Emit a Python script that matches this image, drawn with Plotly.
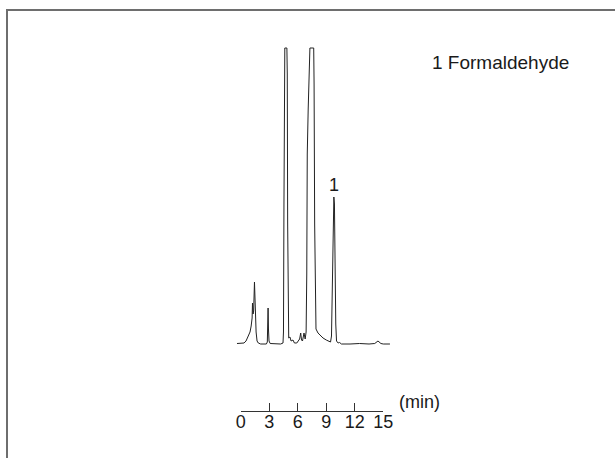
import plotly.graph_objects as go

# Chromatogram trace (retention time in min, detector signal in arbitrary units)
time_min = [-0.39, 0.00, 0.35, 0.56, 0.77, 0.98, 1.10, 1.20, 1.24, 1.30, 1.36, 1.45, 1.50, 1.55,
            1.62, 1.72, 1.85, 2.10, 2.70, 2.80, 2.85, 2.88, 2.92, 2.98, 3.10, 3.60, 4.20, 4.45,
            4.50, 4.55, 4.60, 4.64, 4.86, 4.90, 4.94, 4.98, 5.05, 5.18, 5.30, 5.50, 5.65, 5.90,
            6.20, 6.31, 6.40, 6.50, 6.66, 6.78, 6.88, 6.95, 7.00, 7.10, 7.20, 7.28, 7.68, 7.72,
            7.78, 7.85, 7.92, 8.13, 8.40, 8.66, 9.00, 9.25, 9.45, 9.55, 9.62, 9.70, 9.80, 9.86,
            9.92, 10.00, 10.08, 10.15, 10.25, 10.40, 10.60, 11.50, 12.50, 13.50, 14.10, 14.44,
            14.75, 15.00, 15.70]
signal = [0.5, 0.5, 1, 3, 7, 12, 18, 26, 41, 30, 33, 62, 36, 32,
          12, 3, 1, 0, 0, 2, 18, 36, 15, 3, 0.5, 0, 0, 1,
          12, 140, 280, 296, 296, 270, 120, 20, 6, 7, 3, 4, 1, 1,
          5, 11, 4, 3, 11, 5, 12, 70, 190, 235, 285, 296, 296, 260,
          120, 30, 15, 11, 8, 6, 4, 3, 2, 8, 60, 120, 147, 140,
          80, 20, 3, 2.5, 1, 1.5, 0, 0, 0.5, 0, 0.5, 3,
          0.5, 0, 0]

# Scale bar
scale_ticks = [0, 3, 6, 9, 12, 15]
scale_range = [0, 15]

# Peak labels
peak_ids = ["1"]
peak_times = [9.82]
peak_label_heights = [159]
legend_text = "1 Formaldehyde"

W, H = 615, 458
ML, MR, MT, MB = 0, 0, 40, 47
px_per_min = (383.3 - 240.7) / 15.0
x0_px = 240.7
x_range = [-(x0_px - ML) / px_per_min, (W - MR - x0_px) / px_per_min]
y_range = [-67, 304]

fig = go.Figure()
fig.add_trace(go.Scatter(x=scale_range, y=[None, None], xaxis="x2", yaxis="y",
                         mode="lines", hoverinfo="skip", showlegend=False))
fig.add_trace(go.Scatter(x=time_min, y=signal, mode="lines",
                         line=dict(color="#222222", width=1),
                         hoverinfo="skip", showlegend=False))

font = dict(family="Liberation Sans, Arial, sans-serif", size=18, color="#1a1a1a")
font_big = dict(font, size=19)

annotations = []
for pid, pt, ph in zip(peak_ids, peak_times, peak_label_heights):
    annotations.append(dict(x=pt, y=ph, xref="x", yref="y", text=pid, showarrow=False,
                            font=font, xanchor="center", yanchor="middle"))
plot_h = H - MT - MB
annotations.append(dict(x=430 / W, y=(H - MB - 62) / plot_h, xref="paper", yref="paper",
                        text=legend_text, showarrow=False, font=font_big,
                        xanchor="left", yanchor="middle"))
annotations.append(dict(x=397 / W, y=(H - MB - 402) / plot_h, xref="paper", yref="paper",
                        text="(min)", showarrow=False, font=font,
                        xanchor="left", yanchor="middle"))

fig.update_layout(
    width=W, height=H,
    margin=dict(l=ML, r=MR, t=MT, b=MB, autoexpand=False),
    paper_bgcolor="white", plot_bgcolor="rgba(0,0,0,0)",
    showlegend=False,
    xaxis=dict(range=x_range, visible=False, fixedrange=True),
    yaxis=dict(range=y_range, visible=False, fixedrange=True),
    xaxis2=dict(domain=[x0_px / W, 383.3 / W], range=scale_range, anchor="y",
                tickvals=scale_ticks, ticktext=[str(t) for t in scale_ticks],
                ticks="inside", ticklen=8, tickwidth=1, tickcolor="#333333",
                ticklabelstandoff=-6,
                showline=True, linecolor="#333333", linewidth=1,
                showgrid=False, zeroline=False, tickfont=font, fixedrange=True),
    annotations=annotations,
    shapes=[dict(type="rect", xref="paper", yref="paper",
                 x0=7 / W, x1=1.05, y0=-0.3, y1=(H - MB - 10) / plot_h,
                 line=dict(color="#6e6e6e", width=2), fillcolor="rgba(0,0,0,0)")],
)

fig.write_html("out.html", config={"displayModeBar": False, "staticPlot": True},
               post_script="document.body.style.margin='0px';document.body.style.overflow='hidden';")
